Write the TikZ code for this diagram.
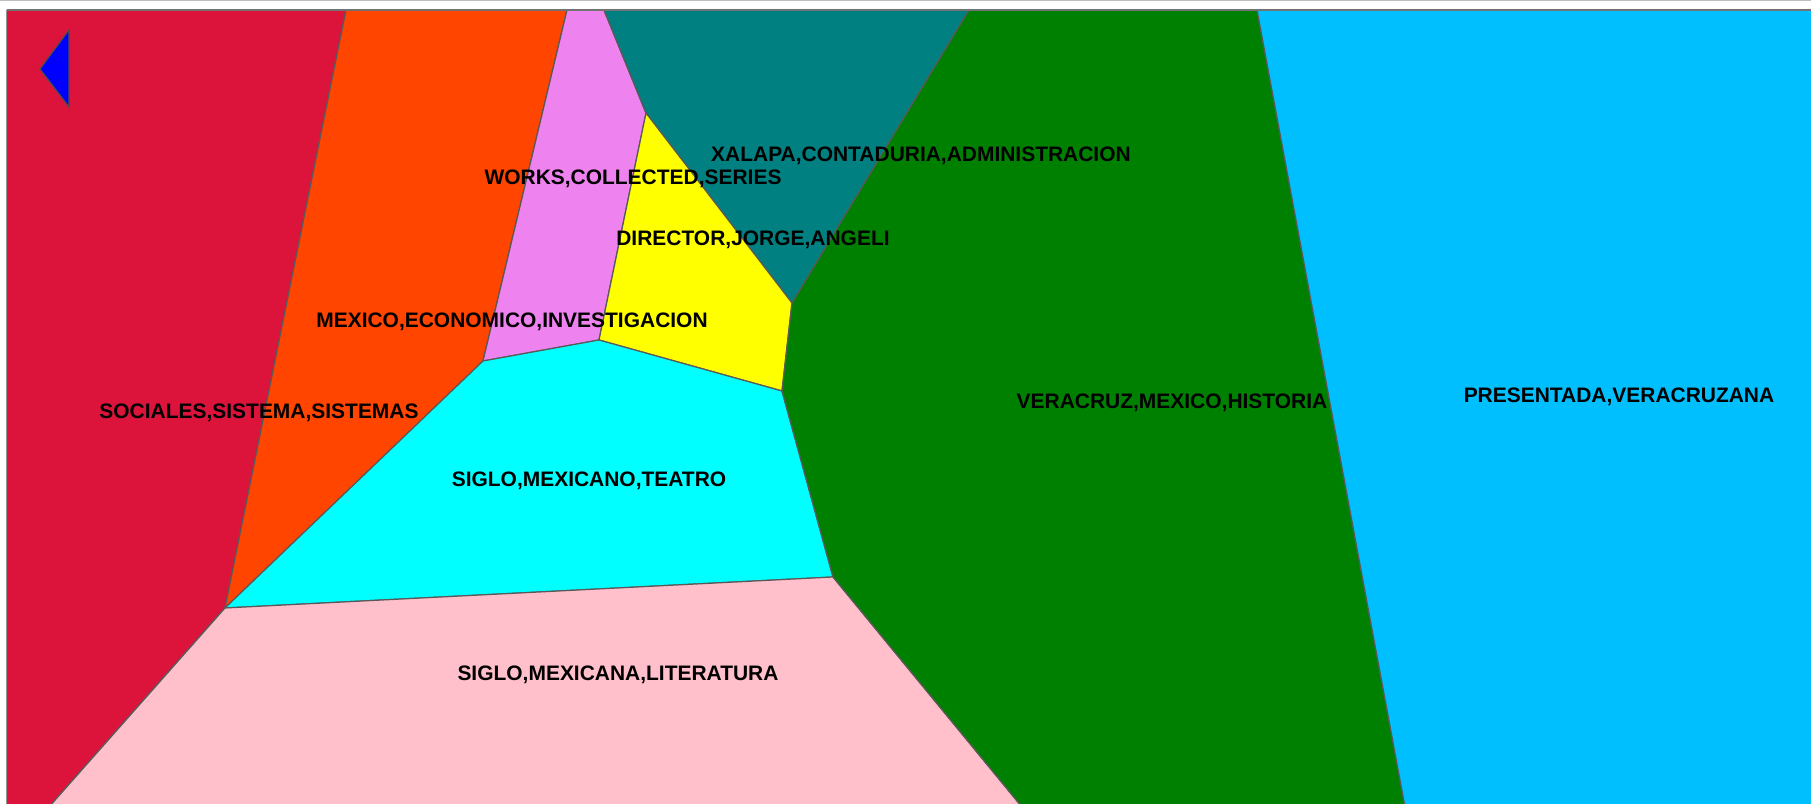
\documentclass[tikz,border=0pt]{standalone}
\usepackage{fontspec}
\setmainfont{Liberation Sans}
\definecolor{crimsonc}{HTML}{DC143C}
\definecolor{orangec}{HTML}{FF4500}
\definecolor{violetc}{HTML}{EE82EE}
\definecolor{tealc}{HTML}{008080}
\definecolor{yellowc}{HTML}{FFFF00}
\definecolor{cyanc}{HTML}{00FFFF}
\definecolor{pinkc}{HTML}{FFC0CB}
\definecolor{greenc}{HTML}{008000}
\definecolor{skyc}{HTML}{00BFFF}
\tikzset{
  cell/.style={draw=black!65, line width=0.35pt, line join=round},
  lbl/.style={anchor=base, inner sep=0pt, font=\bfseries\fontsize{5.96}{7}\selectfont},
}
\begin{document}
\begin{tikzpicture}[x=0.01cm, y=-0.01cm]  %Mapa de regioes, 1 unidade = 1 pixel
  \useasboundingbox (0,0) rectangle (1811,804);
      %Cantos e vertices (baixo e direita ficam fora da borda)
  \coordinate (TL) at (7,10);
  \coordinate (TR) at (1814,10);
  \coordinate (BL) at (7,807);
  \coordinate (BR) at (1814,807);
  \coordinate (a) at (346,10);
  \coordinate (b) at (567,10);
  \coordinate (c) at (604,10);
  \coordinate (d) at (969,10);
  \coordinate (e) at (1257,10);
  \coordinate (f) at (1405,807);
  \coordinate (g) at (1022,807);
  \coordinate (h) at (49,807);
  \coordinate (j1) at (225,608);
  \coordinate (j2) at (483,361);
  \coordinate (j3) at (599,340);
  \coordinate (j4) at (646,113);
  \coordinate (j5) at (792,303);
  \coordinate (j6) at (782,391);
  \coordinate (j7) at (833,577);
      %Linha cinza no topo
  \draw[black!25, line width=0.5pt] (0,0.6) -- (1811,0.6);
      %Regioes
  \filldraw[cell, fill=crimsonc] (TL) -- (a) -- (j1) -- (h) -- (BL) -- cycle;
  \filldraw[cell, fill=orangec] (a) -- (b) -- (j2) -- (j1) -- cycle;
  \filldraw[cell, fill=violetc] (b) -- (c) -- (j4) -- (j3) -- (j2) -- cycle;
  \filldraw[cell, fill=tealc] (c) -- (d) -- (j5) -- (j4) -- cycle;
  \filldraw[cell, fill=yellowc] (j4) -- (j5) -- (j6) -- (j3) -- cycle;
  \filldraw[cell, fill=cyanc] (j2) -- (j3) -- (j6) -- (j7) -- (j1) -- cycle;
  \filldraw[cell, fill=pinkc] (j1) -- (j7) -- (g) -- (h) -- cycle;
  \filldraw[cell, fill=greenc] (d) -- (e) -- (f) -- (g) -- (j7) -- (j6) -- (j5) -- cycle;
  \filldraw[cell, fill=skyc] (e) -- (TR) -- (BR) -- (f) -- cycle;
  \draw[black!55, line width=0.8pt] (TL) -- (TR); %Borda superior
      %Seta de voltar
  \filldraw[fill=blue, draw=black!70, line width=0.35pt] (40,69) -- (69,30) -- (69,107) -- cycle;
      %Rotulos
  \node[lbl] (xalapa) at (921,161.5) {XALAPA,CONTADURIA,ADMINISTRACION};
  \node[lbl] (works) at (633,184.5) {WORKS,COLLECTED,SERIES};
  \node[lbl] (director) at (753,245.5) {DIRECTOR,JORGE,ANGELI};
  \node[lbl] (economico) at (512,327.5) {MEXICO,ECONOMICO,INVESTIGACION};
  \node[lbl] (sociales) at (259,418.5) {SOCIALES,SISTEMA,SISTEMAS};
  \node[lbl] (teatro) at (589,486.5) {SIGLO,MEXICANO,TEATRO};
  \node[lbl] (literatura) at (618,680.5) {SIGLO,MEXICANA,LITERATURA};
  \node[lbl] (historia) at (1172,408.5) {VERACRUZ,MEXICO,HISTORIA};
  \node[lbl] (veracruzana) at (1619,402.5) {PRESENTADA,VERACRUZANA};
\end{tikzpicture}
\end{document}
